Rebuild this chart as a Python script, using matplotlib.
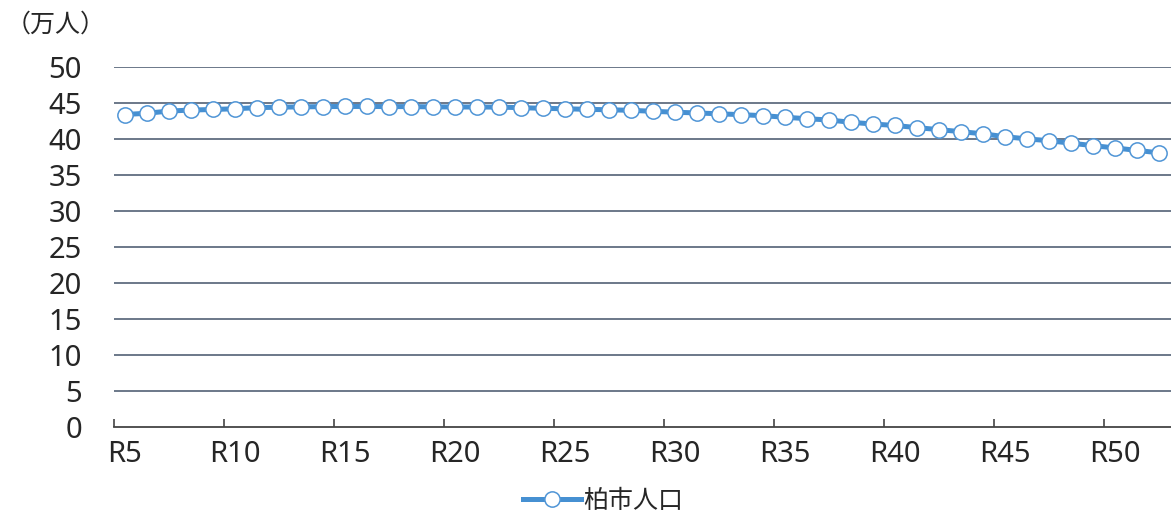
import matplotlib
matplotlib.use('Agg')
from matplotlib import pyplot as plt
import numpy as np

plt.rcParams['font.family'] = ['Noto Sans CJK JP', 'DejaVu Sans']

# 年次ラベル (令和5年 - 令和52年)
years = ['R%d' % y for y in range(5, 53)]
# 柏市人口 (万人)
population = [43.40, 43.58, 43.88, 44.02, 44.10, 44.20, 44.35, 44.42, 44.46, 44.50,
              44.52, 44.52, 44.50, 44.50, 44.46, 44.45, 44.44, 44.43, 44.35, 44.26,
              44.20, 44.12, 44.06, 43.98, 43.85, 43.72, 43.62, 43.50, 43.38, 43.24,
              43.02, 42.82, 42.64, 42.32, 42.08, 41.88, 41.58, 41.30, 41.02, 40.72,
              40.32, 40.02, 39.76, 39.42, 39.08, 38.76, 38.42, 38.08]
yticks = [0, 5, 10, 15, 20, 25, 30, 35, 40, 45, 50]

line_col = '#4690d2'
grid_col = '#44546a'
txt_col = '#262626'
tick_font = ['Noto Sans', 'DejaVu Sans']

fig = plt.figure(figsize=(11.71, 5.16), dpi=100)
ax = fig.add_axes([114/1171, 89/516, 1057/1171, 360/516])

x = np.arange(len(years))
ax.plot(x, population, '-', color=line_col, lw=3.6, marker='o', ms=11,
        mfc='white', mec='#4f95d6', mew=1.1, label='柏市人口', zorder=3)

ax.set_ylim(0, 50)
ax.set_xlim(-0.5, len(years) - 0.5 + 0.05)
ax.set_yticks(yticks)
ax.set_yticklabels([str(v) for v in yticks], fontsize=21, color=txt_col, family=tick_font)
ax.tick_params(axis='y', length=0, pad=23)
for v in yticks[1:]:
    ax.axhline(v, color=grid_col, lw=1.1, zorder=1)

# category labels every 5, tick marks on category boundaries
ax.set_xticks(x[::5])
ax.set_xticklabels(years[::5], fontsize=21, color=txt_col, family=tick_font)
ax.tick_params(axis='x', which='major', length=0, pad=9)
ax.set_xticks(np.arange(-0.5, len(years), 5), minor=True)
ax.tick_params(axis='x', which='minor', direction='in', length=6, width=1.2, color='#444444')

for s in ['top', 'right', 'left']:
    ax.spines[s].set_visible(False)
ax.spines['bottom'].set_color('#444444')
ax.spines['bottom'].set_linewidth(1.3)

fig.text(0.005, 0.953, '（万人）', fontsize=18, color=txt_col, va='center', ha='left')

leg = fig.legend(loc='center', bbox_to_anchor=(603/1171, 1 - 501/516), frameon=False,
                 fontsize=18, handlelength=2.3, handletextpad=0.1, borderpad=0)
for t in leg.get_texts():
    t.set_color(txt_col)

fig.savefig('out.png', dpi=100)
plt.close()
